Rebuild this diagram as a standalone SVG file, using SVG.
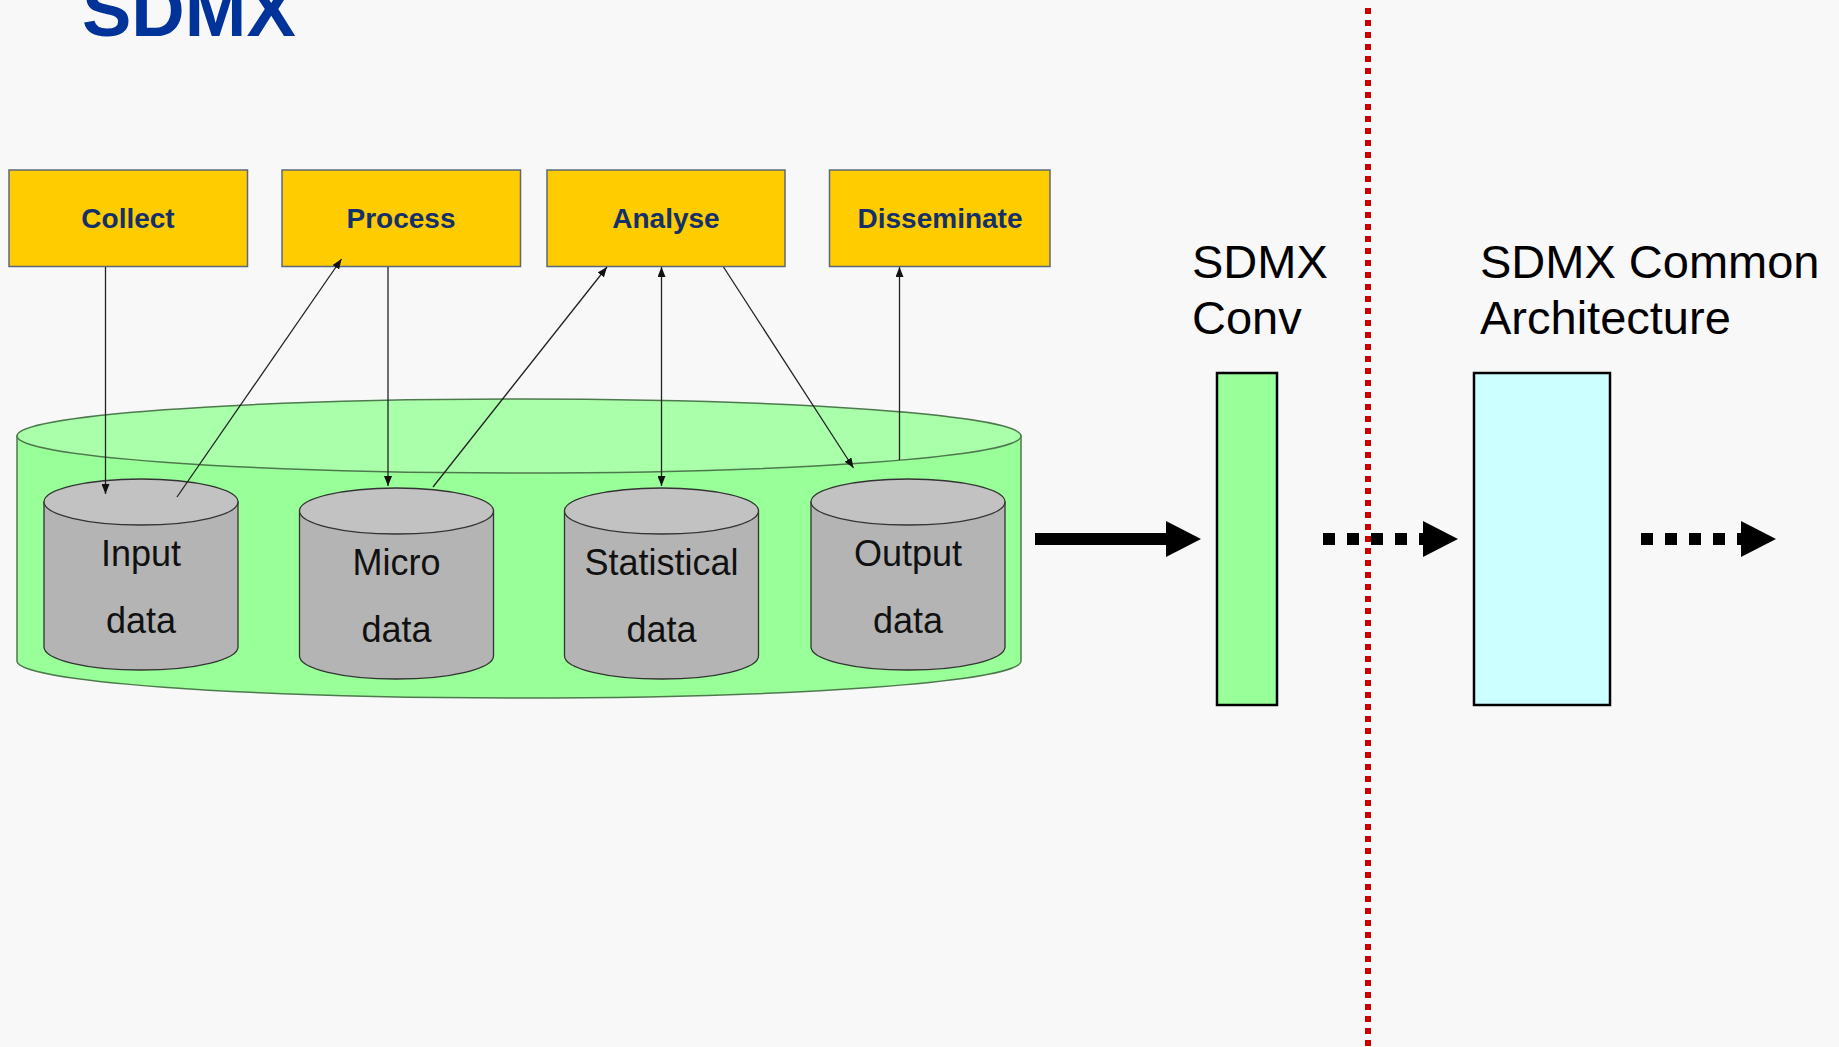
<svg xmlns="http://www.w3.org/2000/svg" width="1839" height="1047" viewBox="0 0 1839 1047">
<style>
.bg{fill:#f8f8f8}
.title{font-family:"Liberation Sans",Arial,sans-serif;font-weight:bold;font-size:74px;fill:#003399}
.step rect{fill:#ffcc00;stroke:#5a6a7a;stroke-width:1.5}
.step text{font-family:"Liberation Sans",Arial,sans-serif;font-weight:bold;font-size:28px;fill:#13306b;text-anchor:middle}
.store .side{fill:#b4b4b4;stroke:#333;stroke-width:1.3}
.store .top{fill:#c2c2c2;stroke:#333;stroke-width:1.3}
.store text{font-family:"Liberation Sans",Arial,sans-serif;font-size:36px;fill:#111;text-anchor:middle}
.big .side{fill:#99ff99;stroke:#4d7a4d;stroke-width:1.5}
.big .top{fill:#aaffaa;stroke:#4d7a4d;stroke-width:1.5}
.lbl{font-family:"Liberation Sans",Arial,sans-serif;font-size:47px;fill:#000}
.conn line{stroke:#222;stroke-width:1.3;fill:none}
.thick{fill:#000}
</style>
<defs>
<marker id="ah" viewBox="0 0 10 8" refX="10" refY="4" markerWidth="10" markerHeight="8" markerUnits="userSpaceOnUse" orient="auto-start-reverse">
<path d="M0,0 L10,4 L0,8 z" fill="#111"/>
</marker>
</defs>
<rect class="bg" x="0" y="0" width="1839" height="1047"/>
<text class="title" x="82" y="36">SDMX</text>

<g id="collect" class="step"><rect x="9" y="170" width="238.5" height="96.5"/><text x="128" y="228">Collect</text></g>
<g id="process" class="step"><rect x="282" y="170" width="238.5" height="96.5"/><text x="401" y="228">Process</text></g>
<g id="analyse" class="step"><rect x="547" y="170" width="238" height="96.5"/><text x="666" y="228">Analyse</text></g>
<g id="disseminate" class="step"><rect x="829.5" y="170" width="220.5" height="96.5"/><text x="940" y="228">Disseminate</text></g>

<g id="warehouse" class="big">
<path class="side" d="M17,436 V661 A502,37 0 0 0 1021,661 V436 Z"/>
<ellipse class="top" cx="519" cy="436" rx="502" ry="37"/>
</g>

<g id="input-data" class="store">
<path class="side" d="M44,502 V647 A97,23 0 0 0 238,647 V502 Z"/>
<ellipse class="top" cx="141" cy="502" rx="97" ry="23"/>
<text x="141" y="566">Input</text><text x="141" y="633">data</text>
</g>
<g id="micro-data" class="store">
<path class="side" d="M299.5,511 V656 A97,23 0 0 0 493.5,656 V511 Z"/>
<ellipse class="top" cx="396.5" cy="511" rx="97" ry="23"/>
<text x="396.5" y="575">Micro</text><text x="396.5" y="642">data</text>
</g>
<g id="statistical-data" class="store">
<path class="side" d="M564.5,511 V656 A97,23 0 0 0 758.5,656 V511 Z"/>
<ellipse class="top" cx="661.5" cy="511" rx="97" ry="23"/>
<text x="661.5" y="575">Statistical</text><text x="661.5" y="642">data</text>
</g>
<g id="output-data" class="store">
<path class="side" d="M811,502 V647 A97,23 0 0 0 1005,647 V502 Z"/>
<ellipse class="top" cx="908" cy="502" rx="97" ry="23"/>
<text x="908" y="566">Output</text><text x="908" y="633">data</text>
</g>

<g id="sdmx-conv">
<text class="lbl" x="1192" y="278">SDMX</text>
<text class="lbl" x="1192" y="334">Conv</text>
<rect x="1217" y="373" width="60" height="332" fill="#99ff99" stroke="#000" stroke-width="2.5"/>
</g>
<g id="sdmx-common">
<text class="lbl" x="1480" y="278">SDMX Common</text>
<text class="lbl" x="1480" y="334">Architecture</text>
<rect x="1474" y="373" width="136" height="332" fill="#ccffff" stroke="#000" stroke-width="2.5"/>
</g>

<g id="connectors">
<g class="conn">
<line x1="105.5" y1="267" x2="105.5" y2="494" marker-end="url(#ah)"/>
<line x1="177" y1="497" x2="341.5" y2="259" marker-end="url(#ah)"/>
<line x1="388" y1="267" x2="388" y2="486" marker-end="url(#ah)"/>
<line x1="433" y1="487" x2="607" y2="267" marker-end="url(#ah)"/>
<line x1="661.5" y1="267" x2="661.5" y2="486" marker-start="url(#ah)" marker-end="url(#ah)"/>
<line x1="723.5" y1="267" x2="853.5" y2="468" marker-end="url(#ah)"/>
<line x1="899.5" y1="460" x2="899.5" y2="267" marker-end="url(#ah)"/>
</g>
<g class="thick">
<rect x="1035" y="533" width="133" height="12"/>
<path d="M1166,521 L1201,539 L1166,557 Z"/>
</g>
<g class="thick">
<path d="M1323,533 h12 v12 h-12 Z M1347,533 h12 v12 h-12 Z M1371,533 h12 v12 h-12 Z M1395,533 h12 v12 h-12 Z M1419,533 h6 v12 h-6 Z"/>
<path d="M1423,521 L1458,539 L1423,557 Z"/>
</g>
<g class="thick">
<path d="M1641,533 h12 v12 h-12 Z M1665,533 h12 v12 h-12 Z M1689,533 h12 v12 h-12 Z M1713,533 h12 v12 h-12 Z M1737,533 h6 v12 h-6 Z"/>
<path d="M1741,521 L1776,539 L1741,557 Z"/>
</g>
</g>

<line x1="1368" y1="8" x2="1368" y2="1047" stroke="#cc0000" stroke-width="6" stroke-dasharray="6 6"/>
</svg>
